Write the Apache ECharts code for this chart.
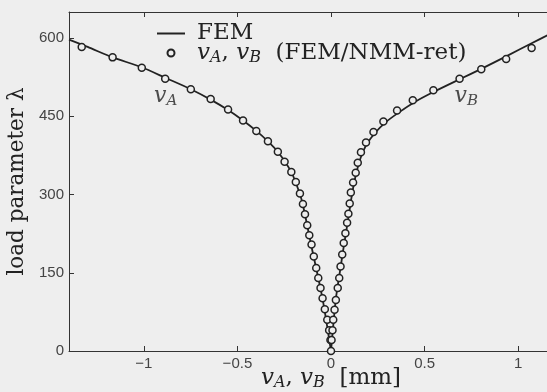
<!DOCTYPE html>
<html>
<head>
<meta charset="utf-8">
<script src="https://cdn.jsdelivr.net/npm/echarts@6/dist/echarts.min.js"></script>
<style>
html,body{margin:0;padding:0;background:#eeeeee;}
#c{width:547px;height:392px;}
</style>
</head>
<body>
<div id="c"></div>
<script>
// ---- data ----
const xTicks = [-1, -0.5, 0, 0.5, 1];
const yTicks = [0, 150, 300, 450, 600];

// FEM curve, branch v_A (negative displacement)
const femAX = [0, -0.045, -0.104, -0.150, -0.170, -0.212, -0.284, -0.337, -0.399, -0.470, -0.550, -0.643, -0.749, -0.880, -1.011, -1.167, -1.300, -1.400];
const femAL = [0, 100, 200, 280, 305, 343, 382, 402, 422, 442, 462, 482, 502, 523, 544, 563, 583, 597];
// FEM curve, branch v_B (positive displacement)
const femBX = [0, 0.026, 0.051, 0.068, 0.086, 0.100, 0.112, 0.125, 0.140, 0.160, 0.190, 0.235, 0.290, 0.365, 0.450, 0.555, 0.687, 0.803, 0.936, 1.072, 1.160, 1.250];
const femBL = [0, 100, 160, 200, 240, 272, 300, 325, 348, 372, 396, 418, 438, 458, 478, 498, 521, 541, 565, 590, 606, 622];

// FEM/NMM-ret markers, v_A
const nmmAX = [0, -0.003, -0.010, -0.020, -0.033, -0.045, -0.056, -0.068, -0.079, -0.092, -0.104, -0.116, -0.127, -0.139, -0.150, -0.166, -0.188, -0.212, -0.248, -0.284, -0.337, -0.399, -0.470, -0.550, -0.643, -0.749, -0.886, -1.011, -1.167, -1.332];
const nmmAL = [0, 21, 40, 60, 80, 101, 121, 140, 159, 181, 204, 222, 241, 262, 282, 302, 324, 343, 363, 382, 402, 422, 442, 463, 483, 502, 522, 543, 563, 583];
// FEM/NMM-ret markers, v_B
const nmmBX = [0.003, 0.008, 0.012, 0.019, 0.026, 0.036, 0.044, 0.051, 0.060, 0.068, 0.077, 0.086, 0.093, 0.100, 0.106, 0.118, 0.132, 0.143, 0.160, 0.187, 0.227, 0.280, 0.353, 0.437, 0.547, 0.687, 0.803, 0.936, 1.072];
const nmmBL = [21, 40, 60, 79, 98, 121, 140, 162, 185, 207, 226, 246, 263, 283, 304, 323, 342, 361, 381, 400, 420, 440, 461, 481, 500, 522, 540, 560, 581];

// curve annotations
const noteText = ['A', 'B'];
const noteX = [-0.883, 0.723];
const noteL = [488, 488];

const seriesNames = ['FEM', 'markers'];
// --------------------------------------

const zip = (xs, ys) => xs.map((x, i) => [x, ys[i]]);
const BG = '#eeeeee';
const INK = '#222222';
const SERIF = '"DejaVu Serif", "Liberation Serif", serif';
const SANS = '"Liberation Sans", Arial, sans-serif';

function mathRich(size, lh) {
  return {
    n: { fontFamily: SERIF, fontSize: size, color: INK, lineHeight: lh },
    i: { fontFamily: SERIF, fontSize: size, fontStyle: 'italic', color: INK, lineHeight: lh },
    s: { fontFamily: SERIF, fontSize: Math.round(size * 0.68), fontStyle: 'italic', color: INK, lineHeight: lh, padding: [Math.round(size * 0.45), 0, 0, 0] }
  };
}

const chart = echarts.init(document.getElementById('c'), null, { renderer: 'canvas' });
const fmtNum = v => String(v).replace('-', '\u2212');

chart.setOption({
  backgroundColor: BG,
  animation: false,
  grid: { left: 69, top: 12, width: 524, height: 339, outerBoundsMode: 'none', containLabel: false },
  legend: {
    orient: 'vertical',
    left: 151, top: 17, padding: 5,
    itemWidth: 28, itemHeight: 7, itemGap: -5,
    data: [
      { name: seriesNames[0], itemStyle: { opacity: 0 } },
      { name: seriesNames[1], icon: 'circle' }
    ],
    formatter: function (name) {
      if (name === seriesNames[0]) return '{n|FEM}';
      return '{i|v}{s|A}{n|, }{i|v}{s|B}{n|  (FEM/NMM-ret)}';
    },
    textStyle: { fontFamily: SERIF, fontSize: 23, color: INK, lineHeight: 20, padding: [0, 0, 0, 7], rich: mathRich(23, 20) }
  },
  xAxis: [{
    type: 'value', min: -1.4, max: 1.4, position: 'bottom',
    name: '{i|v}{s|A}{n|, }{i|v}{s|B}{n|  [mm]}',
    nameLocation: 'middle', nameGap: 15, nameMoveOverlap: false,
    nameTextStyle: { rich: mathRich(23, 24), verticalAlign: 'top' },
    axisLine: { show: true, onZero: false, lineStyle: { color: '#333', width: 1 } },
    axisTick: { show: true, inside: true, length: 5, customValues: xTicks, lineStyle: { color: '#333' } },
    axisLabel: { show: true, customValues: xTicks, formatter: fmtNum, fontFamily: SANS, fontSize: 15, color: '#444', margin: 5 },
    splitLine: { show: false }
  }, {
    type: 'value', min: -1.4, max: 1.4, position: 'top',
    axisLine: { show: true, onZero: false, lineStyle: { color: '#333', width: 1 } },
    axisTick: { show: true, inside: true, length: 5, customValues: xTicks, lineStyle: { color: '#333' } },
    axisLabel: { show: false },
    splitLine: { show: false }
  }],
  yAxis: [{
    type: 'value', min: 0, max: 650, position: 'left',
    name: 'load parameter \u03bb',
    nameLocation: 'middle', nameGap: 37, nameRotate: 90,
    nameTextStyle: { fontFamily: SERIF, fontSize: 21.5, color: INK },
    axisLine: { show: true, onZero: false, lineStyle: { color: '#333', width: 1 } },
    axisTick: { show: true, inside: true, length: 5, customValues: yTicks, lineStyle: { color: '#333' } },
    axisLabel: { show: true, customValues: yTicks, fontFamily: SANS, fontSize: 15, color: '#444', margin: 5 },
    splitLine: { show: false }
  }],
  series: [
    {
      name: seriesNames[0], type: 'line', data: zip(femAX, femAL),
      symbol: 'none', smooth: 0.25, clip: true,
      lineStyle: { color: INK, width: 1.8 }, itemStyle: { color: INK }, z: 2
    },
    {
      name: seriesNames[0], type: 'line', data: zip(femBX, femBL),
      symbol: 'none', smooth: 0.25, clip: true,
      lineStyle: { color: INK, width: 1.8 }, itemStyle: { color: INK }, z: 2
    },
    {
      name: seriesNames[1], type: 'scatter', data: zip(nmmAX, nmmAL),
      symbol: 'circle', symbolSize: 7,
      itemStyle: { color: BG, borderColor: INK, borderWidth: 1.5, opacity: 1 }, z: 3
    },
    {
      name: seriesNames[1], type: 'scatter', data: zip(nmmBX, nmmBL),
      symbol: 'circle', symbolSize: 7,
      itemStyle: { color: BG, borderColor: INK, borderWidth: 1.5, opacity: 1 }, z: 3
    },
    {
      name: 'notes', type: 'scatter', symbolSize: 0, silent: true,
      data: noteX.map((x, i) => ({ value: [x, noteL[i]], sub: noteText[i] })),
      label: {
        show: true, position: 'inside',
        formatter: p => '{i|v}{s|' + p.data.sub + '}',
        rich: mathRich(22, 24)
      },
      z: 4
    }
  ]
});
</script>
</body>
</html>
